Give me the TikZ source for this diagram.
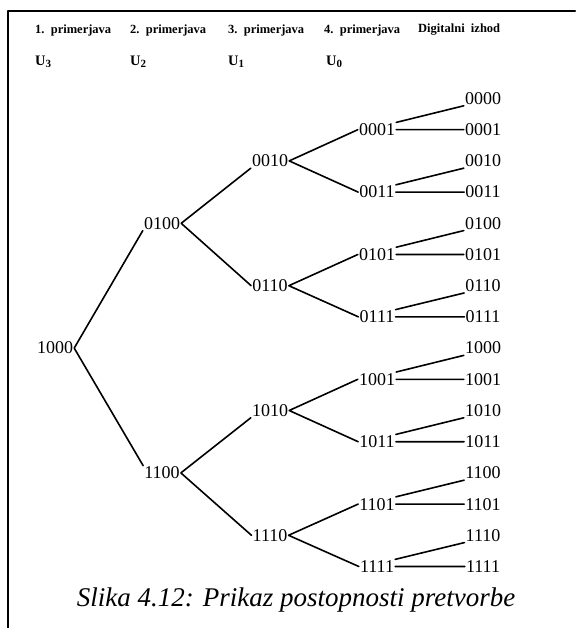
\documentclass[tikz,border=0pt]{standalone}
\usepackage{fontspec}
\setmainfont{Liberation Serif}
\newcommand{\usub}[1]{\raisebox{-0.35ex}{\fontsize{11}{11}\selectfont #1}}
\tikzset{
  head/.style={anchor=west, inner sep=0pt, font=\bfseries\fontsize{12.5}{12.5}\selectfont},
  volt/.style={anchor=west, inner sep=0pt, font=\bfseries\fontsize{14.5}{14.5}\selectfont},
  code/.style={inner sep=1pt, font=\fontsize{18}{18}\selectfont},
}
\begin{document}
\begin{tikzpicture}[x=1pt, y=-1pt, line cap=round, line join=round]
  \useasboundingbox (0,0) rectangle (575,628);
  \draw[line width=2.4pt] (8,628)--(8,11)--(575,11);

  % column heads
  \node[head] (H1) at (35,30)  {1.~~primerjava};
  \node[head] (H2) at (130,30) {2.~~primerjava};
  \node[head] (H3) at (228,30) {3.~~primerjava};
  \node[head] (H4) at (324,30) {4.~~primerjava};
  \node[head] (H5) at (418,30) {Digitalni~~izhod};
  \node[volt] (U3) at (35,62)  {U\usub{3}};
  \node[volt] (U2) at (130,62) {U\usub{2}};
  \node[volt] (U1) at (228,62) {U\usub{1}};
  \node[volt] (U0) at (326,62) {U\usub{0}};

  % tree
  \node[code] (R)  at (55,348.1)  {1000};
  \node[code] (P1) at (162,223.3) {0100};
  \node[code] (P2) at (162,472.9) {1100};
  \node[code] (Q1) at (270,160.9) {0010};
  \node[code] (Q2) at (270,285.7) {0110};
  \node[code] (Q3) at (270,410.5) {1010};
  \node[code] (Q4) at (270,535.3) {1110};
  \node[code] (S1) at (377,129.7) {0001};
  \node[code] (S2) at (377,192.1) {0011};
  \node[code] (S3) at (377,254.5) {0101};
  \node[code] (S4) at (377,316.9) {0111};
  \node[code] (S5) at (377,379.3) {1001};
  \node[code] (S6) at (377,441.7) {1011};
  \node[code] (S7) at (377,504.1) {1101};
  \node[code] (S8) at (377,566.5) {1111};

  % digital output
  \node[code] (O0)  at (483,98.5)  {0000};
  \node[code] (O1)  at (483,129.7) {0001};
  \node[code] (O2)  at (483,160.9) {0010};
  \node[code] (O3)  at (483,192.1) {0011};
  \node[code] (O4)  at (483,223.3) {0100};
  \node[code] (O5)  at (483,254.5) {0101};
  \node[code] (O6)  at (483,285.7) {0110};
  \node[code] (O7)  at (483,316.9) {0111};
  \node[code] (O8)  at (483,348.1) {1000};
  \node[code] (O9)  at (483,379.3) {1001};
  \node[code] (O10) at (483,410.5) {1010};
  \node[code] (O11) at (483,441.7) {1011};
  \node[code] (O12) at (483,472.9) {1100};
  \node[code] (O13) at (483,504.1) {1101};
  \node[code] (O14) at (483,535.3) {1110};
  \node[code] (O15) at (483,566.5) {1111};

  \draw[line width=1.6pt] (R.east)--(P1.south west) (R.east)--(P2.north west);
  \draw[line width=1.6pt] (P1.east)--(Q1.south west) (P1.east)--(Q2.west);
  \draw[line width=1.6pt] (P2.east)--(Q3.south west) (P2.east)--(Q4.west);
  \draw[line width=1.6pt] (Q1.east)--(S1.west) (Q1.east)--(S2.west);
  \draw[line width=1.6pt] (Q2.east)--(S3.west) (Q2.east)--(S4.west);
  \draw[line width=1.6pt] (Q3.east)--(S5.west) (Q3.east)--(S6.west);
  \draw[line width=1.6pt] (Q4.east)--(S7.west) (Q4.east)--(S8.west);
  \draw[line width=1.6pt] (S1.north east)--(O0.south west) (S1.east)--(O1.west);
  \draw[line width=1.6pt] (S2.north east)--(O2.south west) (S2.east)--(O3.west);
  \draw[line width=1.6pt] (S3.north east)--(O4.south west) (S3.east)--(O5.west);
  \draw[line width=1.6pt] (S4.north east)--(O6.south west) (S4.east)--(O7.west);
  \draw[line width=1.6pt] (S5.north east)--(O8.south west) (S5.east)--(O9.west);
  \draw[line width=1.6pt] (S6.north east)--(O10.south west) (S6.east)--(O11.west);
  \draw[line width=1.6pt] (S7.north east)--(O12.south west) (S7.east)--(O13.west);
  \draw[line width=1.6pt] (S8.north east)--(O14.south west) (S8.east)--(O15.west);

  \node[font=\itshape\fontsize{27}{27}\selectfont, inner sep=0pt] (cap) at (296,600) {Slika 4.12: Prikaz postopnosti pretvorbe};
\end{tikzpicture}
\end{document}
